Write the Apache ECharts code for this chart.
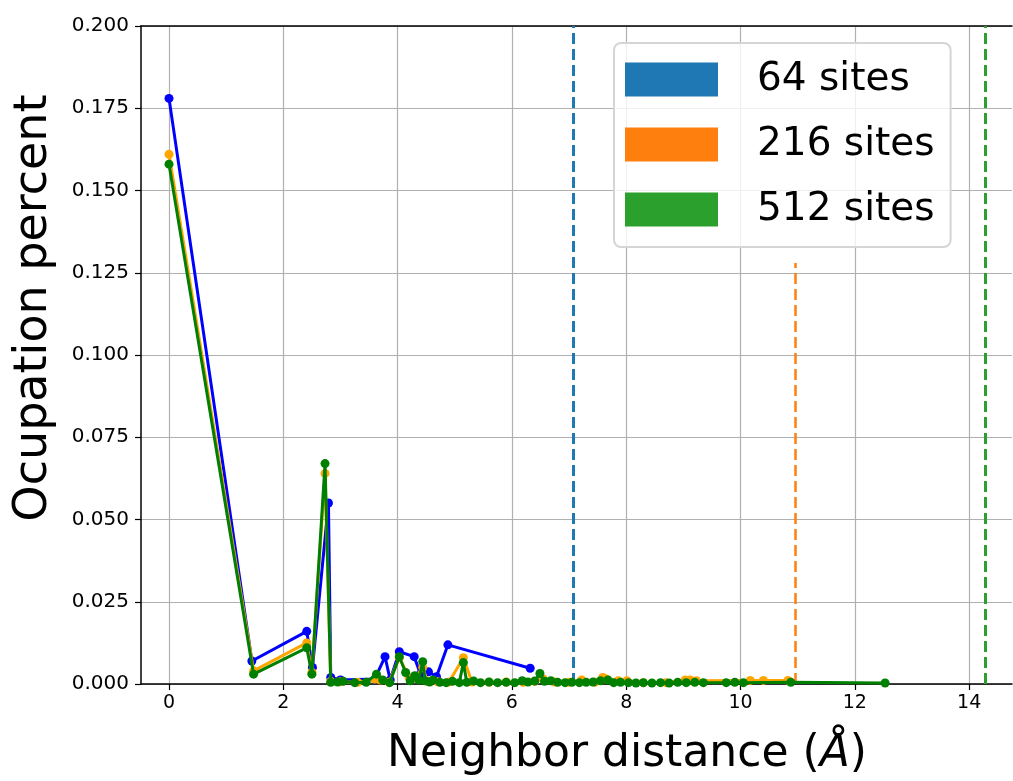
<!DOCTYPE html>
<html><head><meta charset="utf-8">
<script src="https://cdn.jsdelivr.net/npm/echarts@6/dist/echarts.min.js"></script>
<style>html,body{margin:0;padding:0;background:#fff}#c{width:1013px;height:781px}</style>
</head><body><div id="c"></div>
<script>
// ---- data ----
const blue64X = [0, 1.45, 2.41, 2.51, 2.79, 2.83, 3.0, 3.6, 3.78, 3.87, 4.03, 4.29, 4.40, 4.54, 4.68, 4.88, 6.32];
const blue64Y = [0.178, 0.007, 0.016, 0.005, 0.055, 0.002, 0.0012, 0.0015, 0.0083, 0.0012, 0.0098, 0.0083, 0.0030, 0.0037, 0.0022, 0.0119, 0.0048];

const orange216X = [0, 1.48, 2.41, 2.50, 2.73, 2.83, 3.0, 3.3, 3.6, 3.70, 3.85, 4.03, 4.20, 4.30, 4.44, 4.52, 4.70, 4.90, 5.15, 5.30, 5.60, 5.90, 6.20, 6.40, 6.55, 6.75, 7.00, 7.22, 7.45, 7.59, 7.65, 7.86, 8.01, 8.30, 8.70, 9.03, 9.12, 9.23, 10.17, 10.40, 10.83];
const orange216Y = [0.161, 0.004, 0.0125, 0.0035, 0.064, 0.0008, 0.0007, 0.0005, 0.0015, 0.0012, 0.0005, 0.0080, 0.0020, 0.0018, 0.0050, 0.0008, 0.0007, 0.0006, 0.0080, 0.0006, 0.0005, 0.0006, 0.0005, 0.0008, 0.0015, 0.0006, 0.0005, 0.0012, 0.0005, 0.0020, 0.0015, 0.0010, 0.0010, 0.0004, 0.0004, 0.0012, 0.0012, 0.0010, 0.0011, 0.0011, 0.0011];

const green512X = [0, 1.48, 2.41, 2.50, 2.73, 2.83, 2.95, 3.05, 3.25, 3.45, 3.63, 3.74, 3.86, 4.03, 4.14, 4.22, 4.30, 4.37, 4.44, 4.48, 4.56, 4.62, 4.74, 4.85, 4.96, 5.08, 5.15, 5.21, 5.33, 5.45, 5.60, 5.75, 5.90, 6.05, 6.18, 6.28, 6.40, 6.49, 6.57, 6.68, 6.80, 6.93, 7.05, 7.18, 7.30, 7.42, 7.55, 7.68, 7.78, 7.90, 8.04, 8.17, 8.30, 8.45, 8.60, 8.75, 8.90, 9.05, 9.20, 9.35, 9.75, 9.90, 10.05, 10.88, 12.53];
const green512Y = [0.158, 0.003, 0.011, 0.003, 0.067, 0.0005, 0.0006, 0.0008, 0.0004, 0.0005, 0.0030, 0.0012, 0.0004, 0.0083, 0.0035, 0.0010, 0.0025, 0.0012, 0.0068, 0.0010, 0.0006, 0.0012, 0.0005, 0.0004, 0.0008, 0.0004, 0.0065, 0.0005, 0.0009, 0.0004, 0.0006, 0.0004, 0.0005, 0.0004, 0.0010, 0.0006, 0.0009, 0.0032, 0.0008, 0.0010, 0.0005, 0.0004, 0.0005, 0.0004, 0.0005, 0.0006, 0.0010, 0.0012, 0.0004, 0.0005, 0.0004, 0.0003, 0.0004, 0.0003, 0.0004, 0.0003, 0.0005, 0.0004, 0.0005, 0.0004, 0.0004, 0.0005, 0.0004, 0.0005, 0.0003];

const legendNames = ['64 sites', '216 sites', '512 sites'];
const cutoffX = [7.07, 10.96, 14.28];       // vertical dashed lines (x position)
const cutoffTop = [0.2, 0.128, 0.2];        // top of each dashed line (y value)

const xTicks = [0, 2, 4, 6, 8, 10, 12, 14];
const yMin = 0, yMax = 0.2, yStep = 0.025;
const xMin = -0.49, xMax = 14.75;
const xTitle = 'Neighbor distance (';
const xTitleUnit = 'Å';
const yTitle = 'Ocupation percent';

// ---- chart ----
const zip = (xs, ys) => xs.map((x, i) => [x, ys[i]]);
const FONT = 'DejaVu Sans';
const patchColors = ['#1f77b4', '#ff7f0e', '#2ca02c'];
const lineColors = ['blue', 'orange', 'green'];
const dashWidth = [3, 2.5, 3];

const chart = echarts.init(document.getElementById('c'), null, {renderer: 'canvas'});

const dataSeries = [[blue64X, blue64Y], [orange216X, orange216Y], [green512X, green512Y]].map((d, i) => ({
  name: 'data' + i,
  type: 'line',
  data: zip(d[0], d[1]),
  symbol: 'circle',
  symbolSize: 9,
  showSymbol: true,
  lineStyle: {color: lineColors[i], width: 3},
  itemStyle: {color: lineColors[i]},
  z: 3 + i,
  silent: true
}));

const cutoffSeries = legendNames.map((n, i) => ({
  name: n,
  type: 'line',
  data: [],
  itemStyle: {color: patchColors[i]},
  lineStyle: {color: patchColors[i]},
  z: 10,
  markLine: {
    silent: true,
    symbol: 'none',
    label: {show: false},
    animation: false,
    lineStyle: {color: patchColors[i], type: [11, 5], width: dashWidth[i]},
    data: [[{coord: [cutoffX[i], yMin]}, {coord: [cutoffX[i], cutoffTop[i]]}]]
  }
}));

chart.setOption({
  animation: false,
  backgroundColor: '#fff',
  textStyle: {fontFamily: FONT},
  grid: {left: 141, right: 1, top: 26, bottom: 97, containLabel: false},
  legend: {
    data: legendNames,
    left: 614, top: 43,
    orient: 'vertical',
    icon: 'rect',
    itemWidth: 93, itemHeight: 34,
    itemGap: 26,
    padding: [17, 16, 18, 11],
    backgroundColor: 'rgba(255,255,255,0.8)',
    borderColor: '#d5d5d5', borderWidth: 2, borderRadius: 7,
    selectedMode: false,
    textStyle: {fontSize: 39, color: '#000', fontFamily: FONT, padding: [0, 0, 0, 34], lineHeight: 34},
    z: 20
  },
  xAxis: [{
    type: 'value', min: xMin, max: xMax, splitNumber: 8,
    axisLine: {show: true, onZero: false, lineStyle: {color: '#000', width: 1.5}},
    axisTick: {show: true, length: 6, lineStyle: {color: '#000', width: 1.2}, customValues: xTicks},
    axisLabel: {fontSize: 19, color: '#000', margin: 10, fontFamily: FONT, customValues: xTicks},
    splitLine: {show: true, lineStyle: {color: '#b0b0b0', width: 1.2}}
  }, {
    type: 'value', position: 'top', min: xMin, max: xMax,
    axisLine: {show: true, onZero: false, lineStyle: {color: '#000', width: 1.5}},
    axisTick: {show: false}, axisLabel: {show: false}, splitLine: {show: false}
  }],
  yAxis: {
    type: 'value', min: yMin, max: yMax, interval: yStep,
    axisLine: {show: true, onZero: false, lineStyle: {color: '#000', width: 1.5}},
    axisTick: {show: true, length: 6, lineStyle: {color: '#000', width: 1.2}},
    axisLabel: {fontSize: 20, color: '#000', margin: 12, fontFamily: FONT, formatter: v => v.toFixed(3)},
    splitLine: {show: true, lineStyle: {color: '#b0b0b0', width: 1.2}}
  },
  graphic: [
    {type: 'text', x: 627, y: 755, style: {
      text: '{n|' + xTitle + '}{u|' + xTitleUnit + '}{n|)}',
      rich: {n: {fontSize: 44, fontFamily: FONT, fill: '#000'}, u: {fontSize: 44, fontFamily: FONT, fontStyle: 'italic', fill: '#000'}},
      align: 'center', verticalAlign: 'middle'}},
    {type: 'text', x: 34, y: 308, rotation: Math.PI / 2, style: {
      text: yTitle, fontSize: 46, fontFamily: FONT, fill: '#000', align: 'center', verticalAlign: 'middle'}}
  ],
  series: dataSeries.concat(cutoffSeries)
});
</script>
</body></html>
